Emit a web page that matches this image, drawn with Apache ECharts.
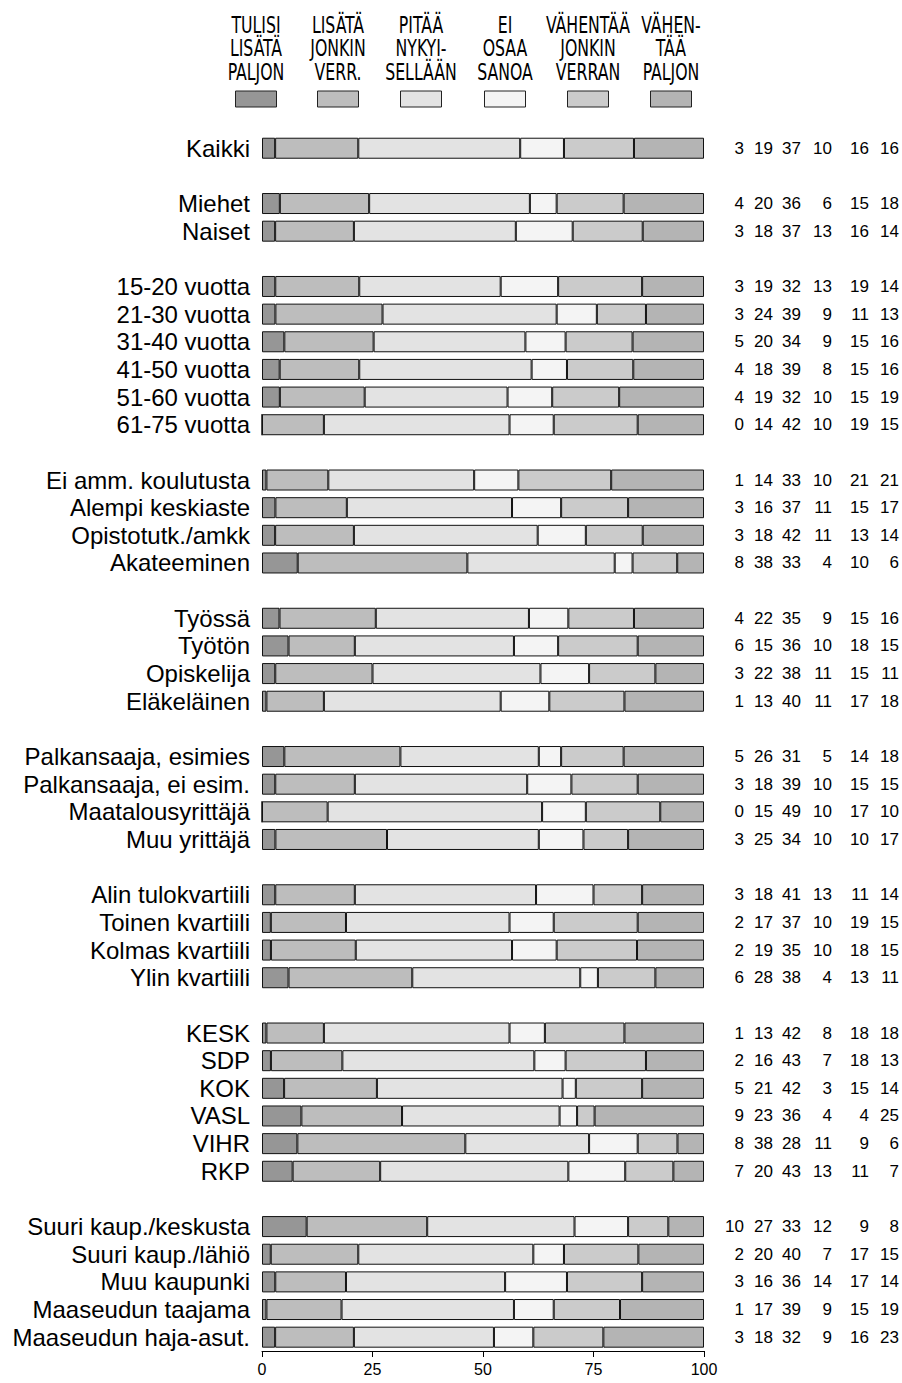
<!DOCTYPE html>
<html>
<head>
<meta charset="utf-8">
<script src="https://cdn.jsdelivr.net/npm/echarts@6/dist/echarts.min.js"></script>
<style>html,body{margin:0;padding:0;background:#fff}#c{width:902px;height:1383px}</style>
</head>
<body>
<div id="c"></div>
<script>
// Categories ('' = empty spacer row)
const categories = [
  'Kaikki','',
  'Miehet','Naiset','',
  '15-20 vuotta','21-30 vuotta','31-40 vuotta','41-50 vuotta','51-60 vuotta','61-75 vuotta','',
  'Ei amm. koulutusta','Alempi keskiaste','Opistotutk./amkk','Akateeminen','',
  'Työssä','Työtön','Opiskelija','Eläkeläinen','',
  'Palkansaaja, esimies','Palkansaaja, ei esim.','Maatalousyrittäjä','Muu yrittäjä','',
  'Alin tulokvartiili','Toinen kvartiili','Kolmas kvartiili','Ylin kvartiili','',
  'KESK','SDP','KOK','VASL','VIHR','RKP','',
  'Suuri kaup./keskusta','Suuri kaup./lähiö','Muu kaupunki','Maaseudun taajama','Maaseudun haja-asut.'
];
const seriesNames = ['Tulisi lisätä paljon','Lisätä jonkin verran','Pitää nykyisellään','Ei osaa sanoa','Vähentää jonkin verran','Vähentää paljon'];
const legendLabels = ['TULISI\nLISÄTÄ\nPALJON','LISÄTÄ\nJONKIN\nVERR.','PITÄÄ\nNYKYI-\nSELLÄÄN','EI\nOSAA\nSANOA','VÄHENTÄÄ\nJONKIN\nVERRAN','VÄHEN-\nTÄÄ\nPALJON'];
const xTicks = [0,25,50,75,100];

const lisataPaljon   = [3,null,4,3,null,3,3,5,4,4,0,null,1,3,3,8,null,4,6,3,1,null,5,3,0,3,null,3,2,2,6,null,1,2,5,9,8,7,null,10,2,3,1,3];
const lisataJonkin   = [19,null,20,18,null,19,24,20,18,19,14,null,14,16,18,38,null,22,15,22,13,null,26,18,15,25,null,18,17,19,28,null,13,16,21,23,38,20,null,27,20,16,17,18];
const pitaa          = [37,null,36,37,null,32,39,34,39,32,42,null,33,37,42,33,null,35,36,38,40,null,31,39,49,34,null,41,37,35,38,null,42,43,42,36,28,43,null,33,40,36,39,32];
const eiOsaa         = [10,null,6,13,null,13,9,9,8,10,10,null,10,11,11,4,null,9,10,11,11,null,5,10,10,10,null,13,10,10,4,null,8,7,3,4,11,13,null,12,7,14,9,9];
const vahentaaJonkin = [16,null,15,16,null,19,11,15,15,15,19,null,21,15,13,10,null,15,18,15,17,null,14,15,17,10,null,11,19,18,13,null,18,18,15,4,9,11,null,9,17,17,15,16];
const vahentaaPaljon = [16,null,18,14,null,14,13,16,16,19,15,null,21,17,14,6,null,16,15,11,18,null,18,15,10,17,null,14,15,15,11,null,18,13,14,25,6,7,null,8,15,14,19,23];

const colors = ['#969696','#bdbdbd','#e3e3e3','#f4f4f4','#cbcbcb','#b4b4b4'];
const raw = [lisataPaljon, lisataJonkin, pitaa, eiOsaa, vahentaaJonkin, vahentaaPaljon];

const totals = categories.map((c,i)=> c==='' ? 0 : raw.reduce((s,a)=>s+a[i],0));
const series = raw.map((arr,k)=>({
  name: seriesNames[k],
  type: 'bar',
  stack: 'total',
  barWidth: 21,
  data: arr.map((v,i)=> v==null ? '-' : v/totals[i]*100),
  itemStyle: {color: colors[k], borderColor:'#111', borderWidth:1},
  emphasis:{disabled:true},
  silent:true
}));

const FONT = "'Liberation Sans', Arial, Helvetica, sans-serif";
const NARROW = "'Liberation Sans Narrow', 'DejaVu Sans Condensed', 'Liberation Sans', sans-serif";

const chart = echarts.init(document.getElementById('c'), null, {renderer:'svg'});

// number columns (right-aligned boxes)
const colW = [28,29,28,31,37,30];
const colKeys = ['a','b','c','d','e','f'];
const rich = {};
colKeys.forEach((k,i)=>{ rich[k] = {width: colW[i], align:'right', fontSize:17, fontFamily:FONT, color:'#000'}; });

const legendGraphics = [];
const boxCx = [256,338,421,505,588,671];
legendLabels.forEach((t,i)=>{
  legendGraphics.push({
    type:'text', x: boxCx[i], y: 13, scaleY:1.35,
    style:{text:t, fill:'#000', font:'17.5px ' + NARROW, align:'center', verticalAlign:'top', lineHeight:17.4}
  });
  legendGraphics.push({
    type:'rect', shape:{x: boxCx[i]-20.5, y:91, width:41, height:16},
    style:{fill: colors[i], stroke:'#222', lineWidth:1}
  });
});

chart.setOption({
  animation:false,
  textStyle:{fontFamily:FONT},
  grid:{left:262, right:198, top:134.4, bottom:32, containLabel:false},
  xAxis:{
    type:'value', min:0, max:100, interval:25,
    axisLine:{show:true, lineStyle:{color:'#000', width:1}},
    axisTick:{show:true, length:6, lineStyle:{color:'#000'}},
    splitLine:{show:false},
    axisLabel:{color:'#000', fontSize:16, margin:10, formatter:(v)=> xTicks.includes(v) ? String(v) : ''}
  },
  yAxis:[{
    type:'category', data:categories, inverse:true,
    axisLine:{show:false}, axisTick:{show:false},
    axisLabel:{color:'#000', fontSize:24, margin:12, interval:0, fontFamily:FONT}
  },{
    type:'category', data:categories, inverse:true, position:'right',
    axisLine:{show:false}, axisTick:{show:false},
    axisLabel:{interval:0, margin:12, align:'left',
      formatter:(v,i)=>{
        if(categories[i]==='') return '';
        return raw.map((a,k)=>'{'+colKeys[k]+'|'+a[i]+'}').join('');
      }, rich}
  }],
  series,
  graphic: legendGraphics
});
</script>
</body>
</html>
